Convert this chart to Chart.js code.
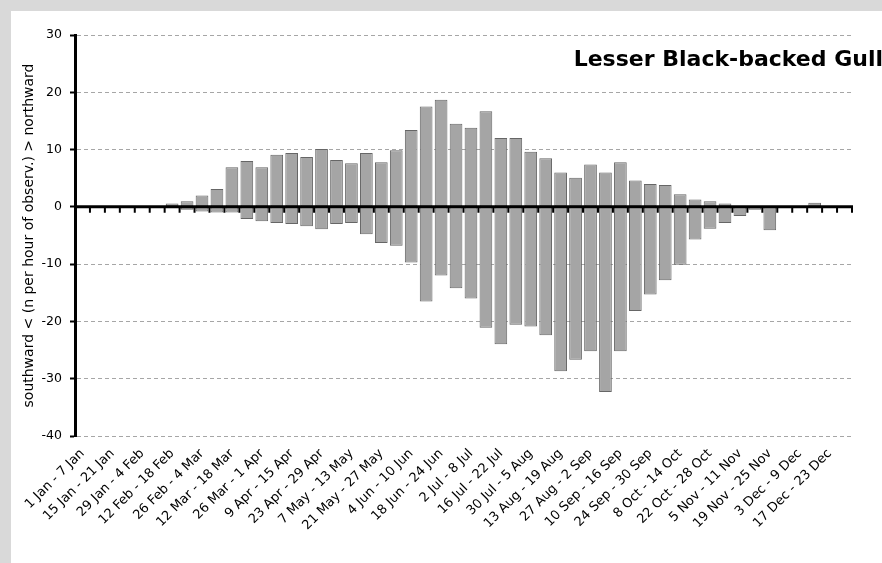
<!DOCTYPE html>
<html>
<head>
<meta charset="utf-8">
<script src="https://cdn.jsdelivr.net/npm/chart.js@4/dist/chart.umd.min.js"></script>
<style>
  html, body { margin: 0; padding: 0; background: #d9d9d9; width: 882px; height: 563px; overflow: hidden; }
  #wrap { position: absolute; left: 11px; top: 11px; width: 871px; height: 552px; background: #ffffff; }
  canvas { display: block; }
</style>
</head>
<body>
<div id="wrap"><canvas id="c" width="871" height="552"></canvas></div>
<script>
const weekLabels = [
  "1 Jan - 7 Jan","8 Jan - 14 Jan","15 Jan - 21 Jan","22 Jan - 28 Jan","29 Jan - 4 Feb","5 Feb - 11 Feb",
  "12 Feb - 18 Feb","19 Feb - 25 Feb","26 Feb - 4 Mar","5 Mar - 11 Mar","12 Mar - 18 Mar","19 Mar - 25 Mar",
  "26 Mar - 1 Apr","2 Apr - 8 Apr","9 Apr - 15 Apr","16 Apr - 22 Apr","23 Apr - 29 Apr","30 Apr - 6 May",
  "7 May - 13 May","14 May - 20 May","21 May - 27 May","28 May - 3 Jun","4 Jun - 10 Jun","11 Jun - 17 Jun",
  "18 Jun - 24 Jun","25 Jun - 1 Jul","2 Jul - 8 Jul","9 Jul - 15 Jul","16 Jul - 22 Jul","23 Jul - 29 Jul",
  "30 Jul - 5 Aug","6 Aug - 12 Aug","13 Aug - 19 Aug","20 Aug - 26 Aug","27 Aug - 2 Sep","3 Sep - 9 Sep",
  "10 Sep - 16 Sep","17 Sep - 23 Sep","24 Sep - 30 Sep","1 Oct - 7 Oct","8 Oct - 14 Oct","15 Oct - 21 Oct",
  "22 Oct - 28 Oct","29 Oct - 4 Nov","5 Nov - 11 Nov","12 Nov - 18 Nov","19 Nov - 25 Nov","26 Nov - 2 Dec",
  "3 Dec - 9 Dec","10 Dec - 16 Dec","17 Dec - 23 Dec","24 Dec - 31 Dec"
];
const northward = [
  0, 0, 0, 0, 0, 0,
  0.6, 1.0, 2.0, 3.1, 6.9, 8.0,
  6.9, 9.1, 9.4, 8.7, 10.1, 8.2,
  7.6, 9.4, 7.8, 9.9, 13.4, 17.5,
  18.7, 14.5, 13.8, 16.7, 12.0, 12.0,
  9.6, 8.5, 6.0, 5.1, 7.4, 6.0,
  7.8, 4.6, 4.0, 3.8, 2.2, 1.3,
  1.0, 0.6, 0, 0, 0, 0,
  0, 0.7, 0, 0
];
const southward = [
  0, 0, 0, 0, 0, 0,
  0, -0.5, -0.8, -1.0, -1.0, -2.1,
  -2.5, -2.8, -3.0, -3.4, -3.9, -3.0,
  -2.8, -4.8, -6.3, -6.8, -9.7, -16.5,
  -12.0, -14.2, -16.0, -21.1, -24.0, -20.6,
  -20.9, -22.4, -28.7, -26.7, -25.2, -32.3,
  -25.2, -18.2, -15.3, -12.8, -10.1, -5.7,
  -3.8, -2.8, -1.6, -0.5, -4.1, 0,
  0, 0, 0, 0
];
const yTicks = [30, 20, 10, 0, -10, -20, -30, -40];
const chartTitle = "Lesser Black-backed Gull";
const yAxisTitle = "southward < (n per hour of observ.) > northward";

const FONT = "'DejaVu Sans', sans-serif";

const zeroAxisPlugin = {
  id: 'zeroAxis',
  afterDatasetsDraw(chart) {
    const {ctx, chartArea, scales: {x, y}} = chart;
    const y0 = y.getPixelForValue(0);
    ctx.save();
    ctx.strokeStyle = '#000';
    ctx.lineWidth = 2;
    const n = weekLabels.length;
    const bounds = [chartArea.left];
    for (let i = 1; i < n; i++) {
      bounds.push((x.getPixelForValue(i - 1) + x.getPixelForValue(i)) / 2);
    }
    bounds.push(chartArea.right);
    ctx.beginPath();
    bounds.forEach(bx => { ctx.moveTo(bx, y0); ctx.lineTo(bx, y0 + 6); });
    ctx.stroke();
    ctx.lineWidth = 3;
    ctx.beginPath();
    ctx.moveTo(chartArea.left, y0);
    ctx.lineTo(chartArea.right + 1, y0);
    ctx.stroke();
    ctx.restore();
  }
};

const titlePlugin = {
  id: 'cornerTitle',
  afterDraw(chart) {
    const {ctx, chartArea} = chart;
    ctx.save();
    ctx.font = "bold 22px " + FONT;
    ctx.fillStyle = '#000';
    ctx.textAlign = 'right';
    ctx.textBaseline = 'alphabetic';
    ctx.fillText(chartTitle, chartArea.right + 31, chartArea.top + 31);
    ctx.restore();
  }
};

new Chart(document.getElementById('c'), {
  type: 'bar',
  data: {
    labels: weekLabels,
    datasets: [
      { label: 'northward', data: northward, backgroundColor: '#a5a5a5', borderColor: '#666666', borderWidth: 1, borderSkipped: false, barPercentage: 0.85, categoryPercentage: 1.0 },
      { label: 'southward', data: southward, backgroundColor: '#a5a5a5', borderColor: '#666666', borderWidth: 1, borderSkipped: false, barPercentage: 0.85, categoryPercentage: 1.0 }
    ]
  },
  options: {
    responsive: false,
    animation: false,
    devicePixelRatio: 1,
    layout: { padding: { top: 24, right: 30, left: 0, bottom: 0 } },
    plugins: { legend: { display: false }, tooltip: { enabled: false }, title: { display: false } },
    scales: {
      x: {
        stacked: true,
        grid: { display: false },
        border: { display: false },
        ticks: {
          autoSkip: false, maxRotation: 45, minRotation: 45, padding: 2,
          color: '#000', font: { family: FONT, size: 13 },
          callback: (v, i) => (i % 2 === 0 ? weekLabels[i] : '')
        },
        afterFit(scale) { scale.height = 127; }
      },
      y: {
        stacked: true,
        min: -40, max: 30,
        afterBuildTicks(scale) { scale.ticks = yTicks.map(v => ({ value: v })); },
        grid: { color: '#a6a6a6', lineWidth: 1, tickColor: '#000', tickWidth: 2, tickLength: 5 },
        border: { display: true, color: '#000', width: 3, dash: [4, 3] },
        ticks: { color: '#000', font: { family: FONT, size: 12.5 }, padding: 8 },
        title: { display: true, text: yAxisTitle, color: '#000', font: { family: FONT, size: 14 }, padding: { top: 10, bottom: 0 } },
        afterFit(scale) { scale.width = 64; }
      }
    }
  },
  plugins: [zeroAxisPlugin, titlePlugin]
});
</script>
</body>
</html>
